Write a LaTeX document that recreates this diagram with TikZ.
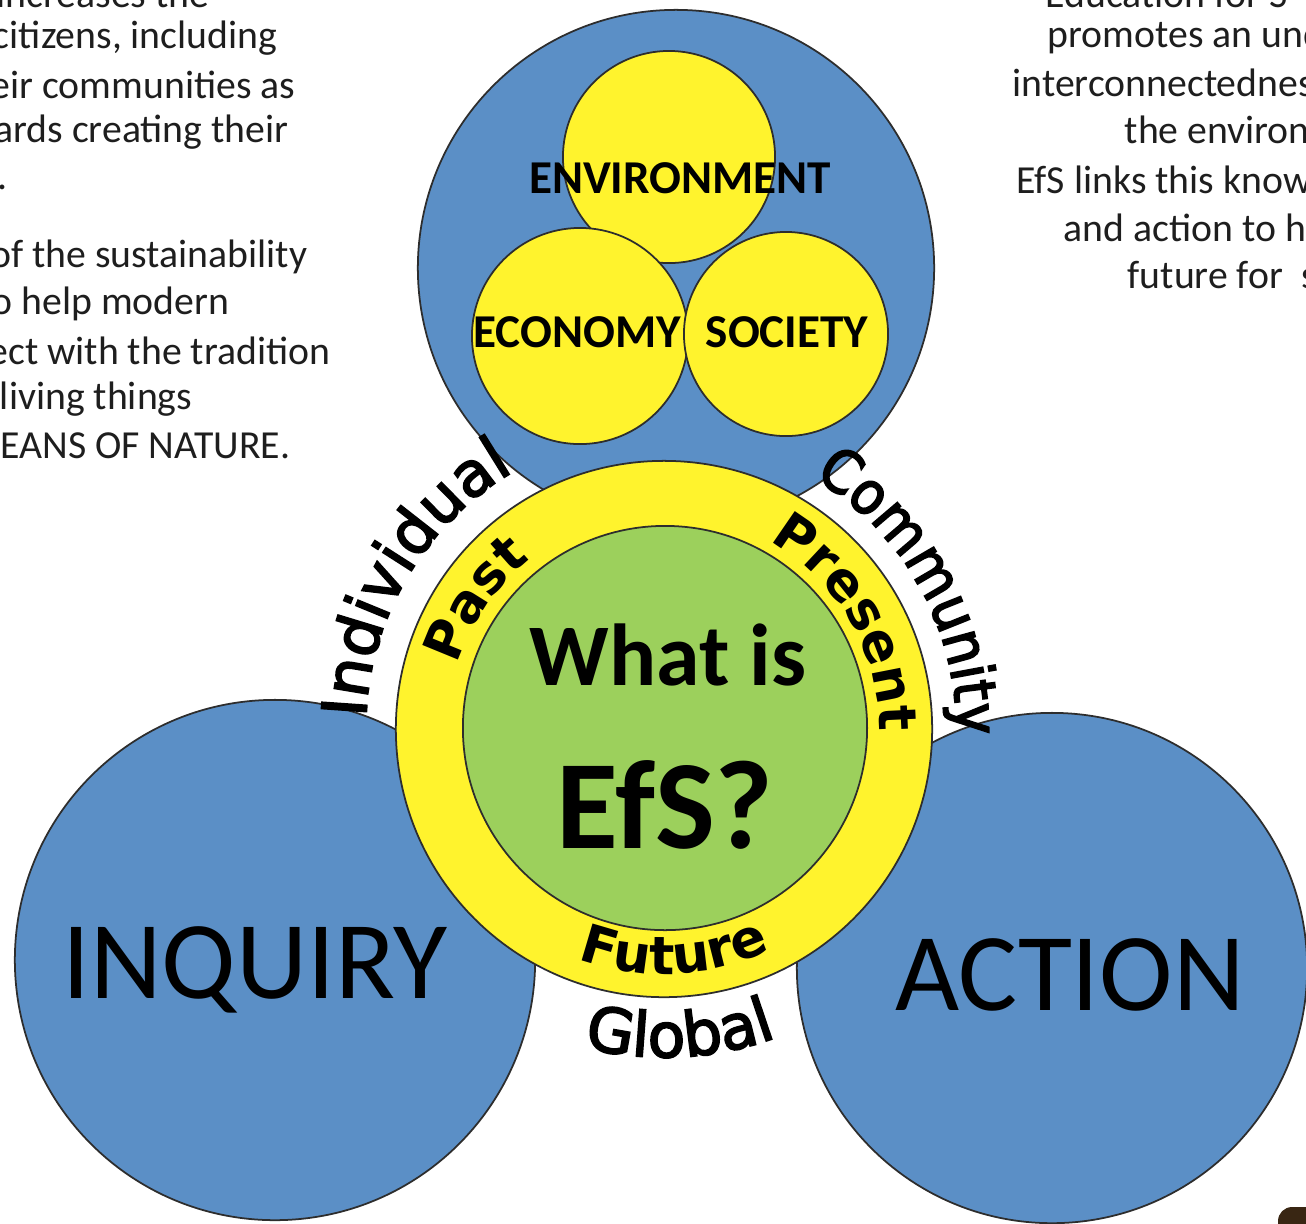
\documentclass[tikz,border=0pt]{standalone}
\usepackage{fontspec}
\setmainfont{Carlito}
\newfontfamily\arcfont[FakeBold=3]{DejaVu Sans}
\newfontfamily\arcnarrow[FakeBold=3]{DejaVu Sans Condensed}
\usetikzlibrary{decorations.text}
\definecolor{efsblue}{RGB}{91,143,198}
\definecolor{efsyellow}{RGB}{255,243,45}
\definecolor{efsgreen}{RGB}{156,208,92}
\definecolor{rim}{RGB}{45,45,45}
\definecolor{notetext}{RGB}{30,30,30}
\pgfdeclarelayer{bg}
\pgfsetlayers{bg,main}
\newcommand\ringouter{\arcfont\fontsize{17.5}{20}\selectfont}
\newcommand\ringright{\arcnarrow\fontsize{16.8}{20}\selectfont}
\newcommand\ringinner{\fontspec{DejaVu Sans}\bfseries\fontsize{15}{17}\selectfont}
\tikzset{
    disc/.style={circle, inner sep=0mm, draw=rim, line width=0.5pt},
    bluedisc/.style={disc, fill=efsblue},
    yellowdisc/.style={disc, fill=efsyellow},
    word/.style={inner sep=0mm, font=\bfseries\fontsize{13.4}{14}\selectfont},
    bigword/.style={inner sep=0mm, font=\fontsize{31.5}{31.5}\selectfont},
    note/.style={inner sep=0mm, text=notetext, font=\fontsize{11.3}{13.4}\selectfont},
    arctext/.style={decorate, decoration={text along path, text align=center, text={#1}}}
}

\begin{document}
\begin{tikzpicture}[x=0.01cm, y=0.01cm]
        \useasboundingbox (0,0) rectangle (1306,-1223);
        \clip (0,0) rectangle (1306,-1223);
        % three blue discs behind the ring
        \begin{pgfonlayer}{bg}
                \node (top) [bluedisc, minimum size=5.16cm] at (676,-268) {};
                \node (inquiry) [bluedisc, minimum size=5.2cm] at (275,-960) {};
                \node (action) [bluedisc, minimum size=5.1cm] at (1052,-968) {};
        \end{pgfonlayer}
        \node (env) [yellowdisc, minimum size=2.12cm] at (669,-157) {};
        \node (eco) [yellowdisc, minimum size=2.16cm] at (580,-336) {};
        \node (soc) [yellowdisc, minimum size=2.04cm] at (786,-334) {};
        \node (envtext) [word] at (680,-178) {ENVIRONMENT};
        \node (ecotext) [word] at (577,-332) {ECONOMY};
        \node (soctext) [word] at (787,-332) {SOCIETY};
        % the ring and its centre
        \node (ring) [yellowdisc, minimum size=5.36cm] at (664,-729) {};
        \node (core) [disc, fill=efsgreen, minimum size=4.04cm] at (665,-728) {};
        \coordinate (c) at (664,-729);
        \node (whatis) [inner sep=0mm, font=\bfseries\fontsize{25}{25}\selectfont] at (668,-655) {What is};
        \node (efs) [inner sep=0mm, font=\bfseries\fontsize{36}{36}\selectfont] at (665,-805) {EfS?};
        \node (inquirytext) [bigword] at (255,-970) {INQUIRY};
        \node (actiontext) [bigword] at (1070,-975) {ACTION};
        % words round the ring
        \path [arctext={|\ringouter|Individual}] (c) ++(195:2.98cm) arc [start angle=195, end angle=103, radius=2.98cm];
        \path [arctext={|\ringright|Community}] (c) ++(75:2.92cm) arc [start angle=75, end angle=-17, radius=2.92cm];
        \path [arctext={|\ringouter|Global}] (c) ++(233:3.28cm) arc [start angle=233, end angle=313, radius=3.28cm];
        \path [arctext={|\ringinner|Past}] (c) ++(185:2.16cm) arc [start angle=185, end angle=106, radius=2.16cm];
        \path [arctext={|\ringinner|Present}] (c) ++(75:2.15cm) arc [start angle=75, end angle=-15, radius=2.15cm];
        \path [arctext={|\ringinner|Future}] (c) ++(230:2.45cm) arc [start angle=230, end angle=315, radius=2.45cm];
        % cut text at the left edge
        \foreach \t/\x/\y in {increases the/210/6, citizens{,} including/278/-38, heir communities as/296/-85,
                wards creating their/289/-132, e./8/-180, of the sustainability/308/-257, to help modern/230/-304,
                nect with the tradition/331/-351, l living things/193/-399, MEANS OF NATURE./291/-446}
                \node [note, anchor=east] at (\x,\y) {\t};
        % cut text at the right edge
        \foreach \t/\x/\y in {Education for S/1045/6, promotes an und/1047/-37, interconnectedness/1012/-83,
                the environ/1124/-130, EfS links this knowl/1016/-180, and action to he/1063/-228, future for\ \ s/1127/-275}
                \node [note, anchor=west] at (\x,\y) {\t};
        \fill [rounded corners=4pt, black!70!brown] (1278,-1207) rectangle (1330,-1240);
\end{tikzpicture}
\end{document}
